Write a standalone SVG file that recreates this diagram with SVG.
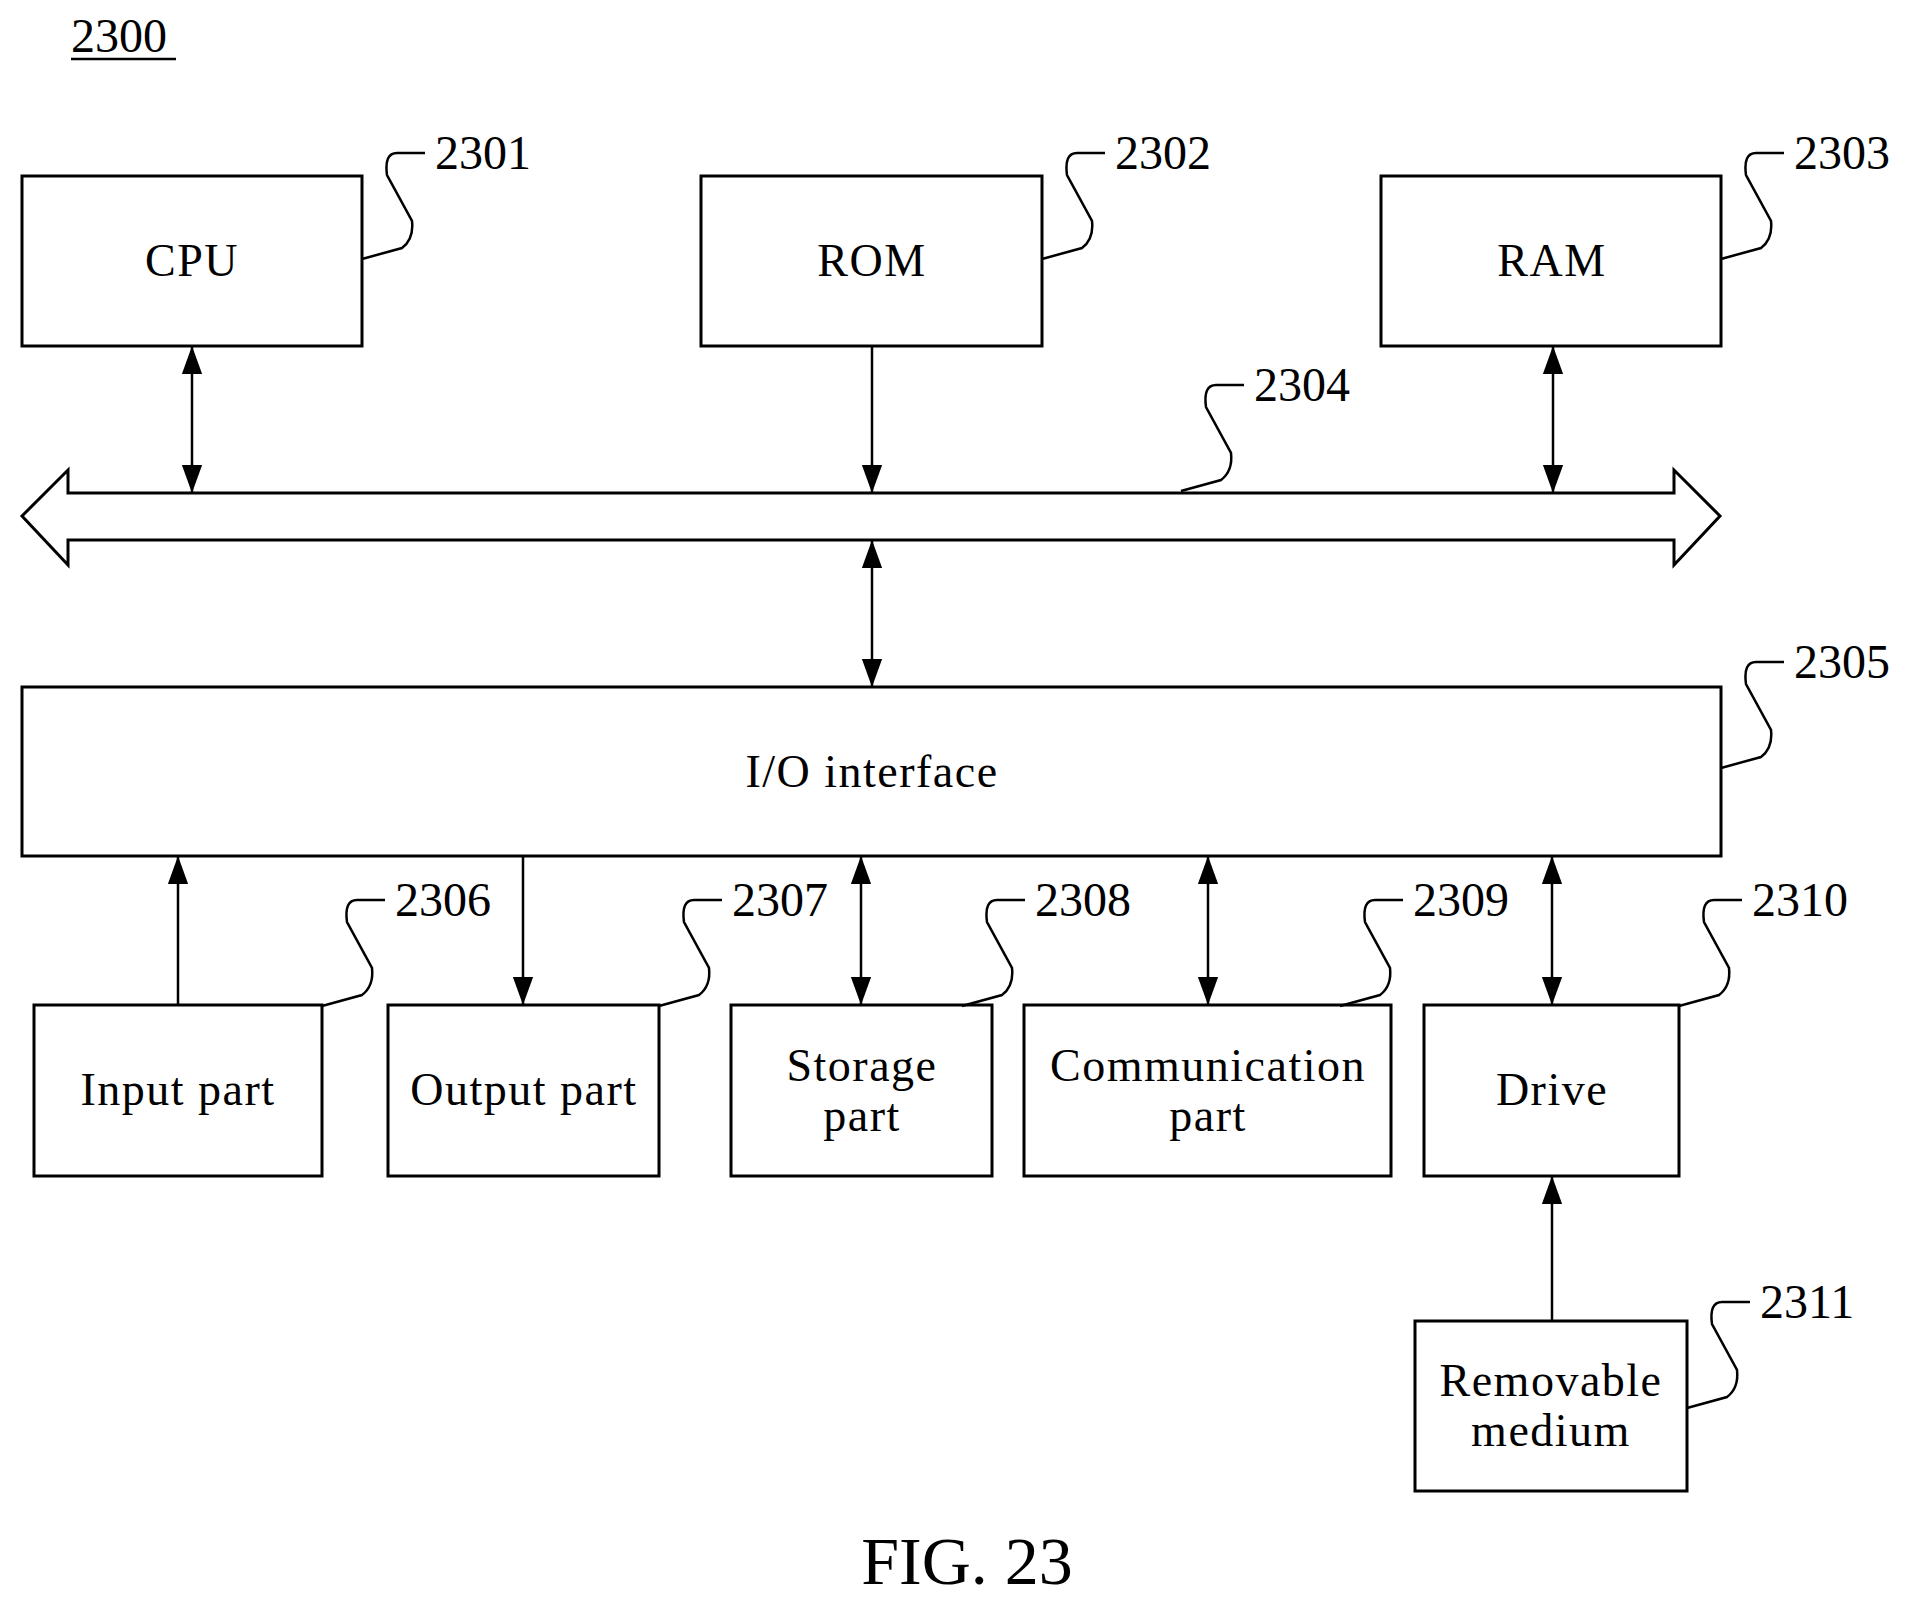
<svg xmlns="http://www.w3.org/2000/svg" width="1906" height="1606" viewBox="0 0 1906 1606">
<style>
.b{fill:#fff;stroke:#000;stroke-width:3}
.t{font-family:"Liberation Serif",serif;font-size:46px;text-anchor:middle;letter-spacing:1.5px}
.n{font-family:"Liberation Serif",serif;font-size:48px}
.l{fill:none;stroke:#000;stroke-width:2.5}
.c{stroke:#000;stroke-width:2.5;fill:none}
</style>
<defs>
<marker id="a" markerUnits="userSpaceOnUse" markerWidth="28" markerHeight="38" refX="36" refY="13" orient="auto" viewBox="0 0 36 26"><path d="M0,0 L36,13 L0,26 Z"/></marker>
<marker id="s" markerUnits="userSpaceOnUse" markerWidth="28" markerHeight="38" refX="0" refY="13" orient="auto" viewBox="0 0 36 26"><path d="M36,0 L0,13 L36,26 Z"/></marker>
<path id="ld" d="M0,0 L40,-11 Q52,-20 50,-38 L25,-84 Q22,-106 35,-106 L63,-106"/>
</defs>
<g id="title"><text class="n" x="71" y="52">2300</text><line x1="71" y1="59" x2="176" y2="59" stroke="#000" stroke-width="2.5"/></g>
<g id="cpu"><rect class="b" x="22" y="176" width="340" height="170"/><text class="t" x="192" y="276">CPU</text></g>
<g id="rom"><rect class="b" x="701" y="176" width="341" height="170"/><text class="t" x="872" y="276">ROM</text></g>
<g id="ram"><rect class="b" x="1381" y="176" width="340" height="170"/><text class="t" x="1552" y="276">RAM</text></g>
<g id="bus"><path class="b" d="M22,516 L68,470 L68,493 L1674,493 L1674,470 L1720,516 L1674,565 L1674,540 L68,540 L68,565 Z"/></g>
<g id="io"><rect class="b" x="22" y="687" width="1699" height="169"/><text class="t" x="872" y="787">I/O interface</text></g>
<g id="input"><rect class="b" x="34" y="1005" width="288" height="171"/><text class="t" x="178" y="1105">Input part</text></g>
<g id="output"><rect class="b" x="388" y="1005" width="271" height="171"/><text class="t" x="524" y="1105">Output part</text></g>
<g id="storage"><rect class="b" x="731" y="1005" width="261" height="171"/><text class="t" x="862" y="1081">Storage</text><text class="t" x="862" y="1131">part</text></g>
<g id="comm"><rect class="b" x="1024" y="1005" width="367" height="171"/><text class="t" x="1208" y="1081">Communication</text><text class="t" x="1208" y="1131">part</text></g>
<g id="drive"><rect class="b" x="1424" y="1005" width="255" height="171"/><text class="t" x="1552" y="1105">Drive</text></g>
<g id="medium"><rect class="b" x="1415" y="1321" width="272" height="170"/><text class="t" x="1551" y="1396">Removable</text><text class="t" x="1551" y="1446">medium</text></g>
<g id="connectors">
<line class="c" x1="192" y1="346" x2="192" y2="493" marker-start="url(#s)" marker-end="url(#a)"/>
<line class="c" x1="872" y1="346" x2="872" y2="493" marker-end="url(#a)"/>
<line class="c" x1="1553" y1="346" x2="1553" y2="493" marker-start="url(#s)" marker-end="url(#a)"/>
<line class="c" x1="872" y1="540" x2="872" y2="687" marker-start="url(#s)" marker-end="url(#a)"/>
<line class="c" x1="178" y1="1005" x2="178" y2="856" marker-end="url(#a)"/>
<line class="c" x1="523" y1="856" x2="523" y2="1005" marker-end="url(#a)"/>
<line class="c" x1="861" y1="856" x2="861" y2="1005" marker-start="url(#s)" marker-end="url(#a)"/>
<line class="c" x1="1208" y1="856" x2="1208" y2="1005" marker-start="url(#s)" marker-end="url(#a)"/>
<line class="c" x1="1552" y1="856" x2="1552" y2="1005" marker-start="url(#s)" marker-end="url(#a)"/>
<line class="c" x1="1552" y1="1321" x2="1552" y2="1176" marker-end="url(#a)"/>
</g>
<g id="labels">
<use href="#ld" class="l" x="362" y="259"/><text class="n" x="435" y="169">2301</text>
<use href="#ld" class="l" x="1042" y="259"/><text class="n" x="1115" y="169">2302</text>
<use href="#ld" class="l" x="1721" y="259"/><text class="n" x="1794" y="169">2303</text>
<use href="#ld" class="l" x="1181" y="491"/><text class="n" x="1254" y="401">2304</text>
<use href="#ld" class="l" x="1721" y="768"/><text class="n" x="1794" y="678">2305</text>
<use href="#ld" class="l" x="322" y="1006"/><text class="n" x="395" y="916">2306</text>
<use href="#ld" class="l" x="659" y="1006"/><text class="n" x="732" y="916">2307</text>
<use href="#ld" class="l" x="962" y="1006"/><text class="n" x="1035" y="916">2308</text>
<use href="#ld" class="l" x="1340" y="1006"/><text class="n" x="1413" y="916">2309</text>
<use href="#ld" class="l" x="1679" y="1006"/><text class="n" x="1752" y="916">2310</text>
<use href="#ld" class="l" x="1687" y="1408"/><text class="n" x="1760" y="1318">2311</text>
</g>
<text x="967" y="1584" style="font-family:'Liberation Serif',serif;font-size:68px;text-anchor:middle">FIG. 23</text>
</svg>
